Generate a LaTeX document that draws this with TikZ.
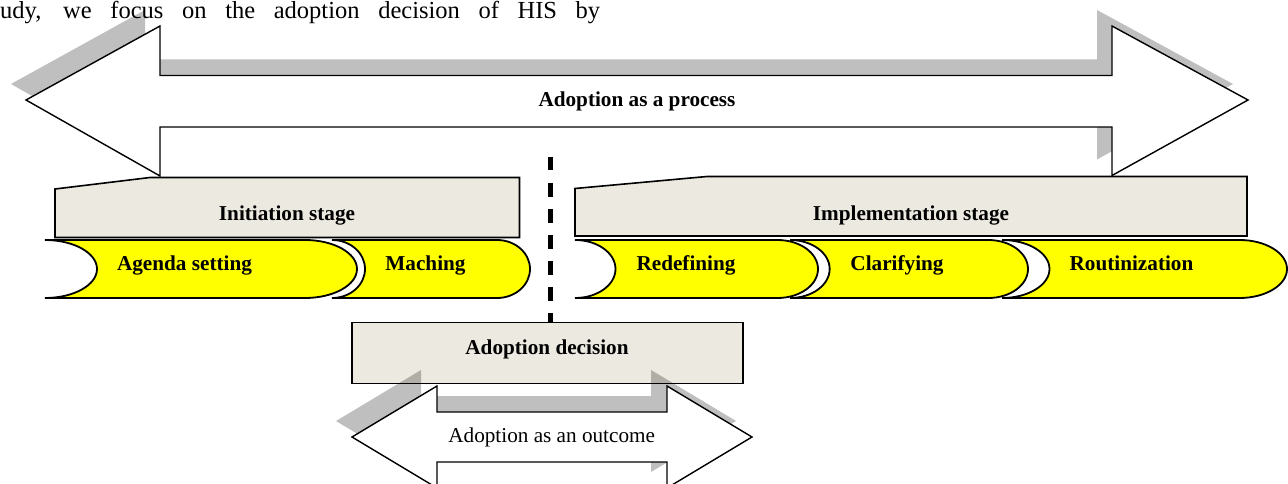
\documentclass[tikz,border=0pt]{standalone}
\usepackage{fontspec}
\setmainfont{Liberation Serif}
\definecolor{stagefill}{RGB}{236,233,224}
\definecolor{stepyellow}{RGB}{255,255,0}

% Chevron with an elliptical nose on the right and a matching notch on the left.
% #1 = left edge, #2 = right tip; top 240, bottom 298, middle 269.
\newcommand\chevronshape[2]{%
  \pgfmathsetmacro\chRx{(#2-#1)/6}%
  \pgfmathsetmacro\chA{#2-\chRx}%
  \pgfmathsetmacro\chB{#2-0.4477*\chRx}%
  \pgfmathsetmacro\chC{#1+0.5523*\chRx}%
  \pgfmathsetmacro\chD{#1+\chRx}%
  \draw[chevron] (#1,240) -- (\chA,240)
     .. controls (\chB,240) and (#2,253) .. (#2,269)
     .. controls (#2,285) and (\chB,298) .. (\chA,298)
     -- (#1,298)
     .. controls (\chC,298) and (\chD,285) .. (\chD,269)
     .. controls (\chD,253) and (\chC,240) .. (#1,240) -- cycle;%
}

\begin{document}
\begin{tikzpicture}[x=1pt,y=-1pt,
  shade/.style={fill=black, fill opacity=0.25, draw=none},
  arrowbody/.style={draw=black, fill=white, line width=1.4pt, line join=miter},
  stagebox/.style={draw=black, fill=stagefill, line width=1.6pt, line join=miter},
  chevron/.style={draw=black, fill=stepyellow, line width=1.8pt},
  boldlbl/.style={inner sep=0pt, anchor=base, font=\fontsize{21.2}{25}\selectfont\bfseries},
  plainlbl/.style={inner sep=0pt, anchor=base, font=\fontsize{21.2}{25}\selectfont},
  bigarrow/.style={insert path={(26,100) -- (160,26) -- (160,75.5) -- (1112,75.5)
      -- (1112,26) -- (1248,100) -- (1112,175.5) -- (1112,127) -- (160,127)
      -- (160,176) -- cycle}},
  smallarrow/.style={insert path={(352,437) -- (437,386) -- (437,412) -- (667,412)
      -- (667,386) -- (752,437) -- (667,488) -- (667,462) -- (437,462)
      -- (437,488) -- cycle}},
  divider/.style={line width=5pt, dash pattern=on 13.5pt off 12.5pt}
]
\useasboundingbox (0,0) rectangle (1288,484);
\clip (0,0) rectangle (1288,484);

% running text line above the figure
\node[inner sep=0pt, anchor=base west] (bodytext) at (0,18.5)
  {\fontsize{24.5}{29}\selectfont\makebox[600pt][s]{udy, we focus on the adoption decision of HIS by}};

% process arrow with its drop shadow
\begin{scope}[shift={(-15,-16)}]
  \fill[shade, bigarrow];
\end{scope}
\draw[arrowbody, bigarrow];
\node[boldlbl] (process) at (637,106.7) {Adoption as a process};

% stage boxes
\draw[stagebox] (55,189) -- (150,177.5) -- (519.5,177.5) -- (519.5,237.5) -- (55,237.5) -- cycle;
\node[boldlbl] (initiation) at (287,220.5) {Initiation stage};
\draw[stagebox] (575,188.5) -- (707,176.5) -- (1247,176.5) -- (1247,236) -- (575,236) -- cycle;
\node[boldlbl] (implementation) at (911,220.5) {Implementation stage};

% step chevrons
\chevronshape{45}{357}
\node[boldlbl] (agenda) at (184.5,270.7) {Agenda setting};
\chevronshape{332}{530}
\node[boldlbl] (matching) at (425.5,270.7) {Maching};
\chevronshape{575}{818}
\node[boldlbl] (redefining) at (686,270.7) {Redefining};
\chevronshape{790}{1028}
\node[boldlbl] (clarifying) at (897,270.7) {Clarifying};
\chevronshape{1002}{1287}
\node[boldlbl] (routinization) at (1131.5,270.7) {Routinization};

% decision box and the divider above it
\node[stagebox, minimum width=391pt, minimum height=61pt, inner sep=0pt] (decision) at (547.2,352.8) {};
\node[boldlbl] (decisiontext) at (547,354) {Adoption decision};
\coordinate (dividertop) at (550.5,157);
\draw[divider] (dividertop) -- (dividertop |- decision.north);

% outcome arrow with its drop shadow
\begin{scope}[shift={(-16,-16)}]
  \fill[shade, smallarrow];
\end{scope}
\draw[arrowbody, smallarrow];
\node[plainlbl] (outcome) at (551.7,442.7) {Adoption as an outcome};
\end{tikzpicture}
\end{document}
